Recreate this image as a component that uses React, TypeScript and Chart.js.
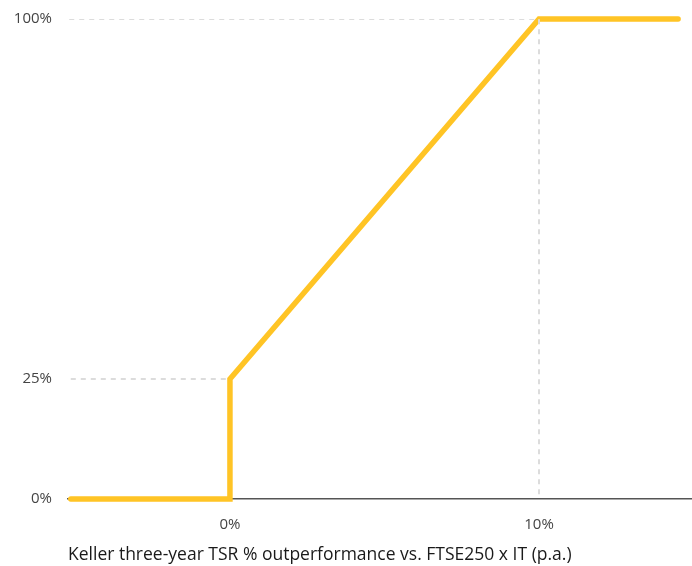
import React, { useEffect, useRef } from "react";
import { Chart, registerables } from "chart.js";

Chart.register(...registerables);

// Vesting schedule: x = TSR outperformance (% p.a.), y = vesting (%)
const vestX = [-5.15, 0, 0, 10, 14.5];
const vestY = [0, 0, 25, 100, 100];

// Dashed guide lines
const guide100X = [-5.2, 10, 10];
const guide100Y = [100, 100, 0];
const guide25X = [-5.15, 0];
const guide25Y = [25, 25];

const xTicks = [0, 10];
const yTicks = [0, 25, 100];
const xMin = -5.24;
const xMax = 14.95;

const xTitle = "Keller three-year TSR % outperformance vs. FTSE250 x IT (p.a.)";

const FONT = "'Open Sans', Lato, sans-serif";

function zip(xs: number[], ys: number[]) {
  return xs.map((x, i) => ({ x, y: ys[i] }));
}

export default function App() {
  const ref = useRef<HTMLCanvasElement | null>(null);
  useEffect(() => {
    if (!ref.current) return;
    const chart = new Chart(ref.current, {
      type: "line",
      data: {
        datasets: [
          {
            data: zip(guide100X, guide100Y),
            borderColor: "#dcdcdc",
            borderWidth: 2,
            borderDash: [5, 5],
            pointRadius: 0,
            fill: false,
          },
          {
            data: zip(guide25X, guide25Y),
            borderColor: "#dcdcdc",
            borderWidth: 2,
            borderDash: [5, 5],
            pointRadius: 0,
            fill: false,
          },
          {
            data: zip(vestX, vestY),
            borderColor: "#FFC425",
            borderWidth: 5.5,
            borderCapStyle: "round",
            borderJoinStyle: "miter",
            pointRadius: 0,
            fill: false,
            tension: 0,
            clip: false,
          },
        ],
      },
      options: {
        animation: false,
        responsive: false,
        maintainAspectRatio: false,
        layout: { padding: { top: 19, right: 0, left: 0, bottom: 0 } },
        plugins: { legend: { display: false }, tooltip: { enabled: false } },
        scales: {
          x: {
            type: "linear",
            min: xMin,
            max: xMax,
            grid: { display: false },
            border: { display: true, color: "#555", width: 1.5 },
            afterBuildTicks: (s: any) => {
              s.ticks = xTicks.map((v) => ({ value: v }));
            },
            afterFit: (s: any) => {
              s.height = 67;
            },
            ticks: {
              color: "#444",
              font: { family: FONT, size: 15 },
              padding: 9,
              maxRotation: 0,
              callback: (v: any) => v + "%",
            },
            title: {
              display: true,
              text: xTitle,
              align: "start",
              color: "#1a1a1a",
              font: { family: FONT, size: 17.5 },
              padding: { top: 0, bottom: 0 },
            },
          },
          y: {
            type: "linear",
            min: 0,
            max: 100,
            grid: { display: false },
            border: { display: false },
            afterBuildTicks: (s: any) => {
              s.ticks = yTicks.map((v) => ({ value: v }));
            },
            afterFit: (s: any) => {
              s.width = 68;
            },
            ticks: {
              color: "#444",
              font: { family: FONT, size: 15 },
              padding: 8,
              callback: (v: any) => v + "%",
            },
          },
        },
      },
    });
    return () => chart.destroy();
  }, []);
  return (
    <div style={{ position: "absolute", left: 0, top: 0, width: 692, height: 566, background: "#fff" }}>
      <canvas ref={ref} width={692} height={566} style={{ width: 692, height: 566 }} />
    </div>
  );
}
